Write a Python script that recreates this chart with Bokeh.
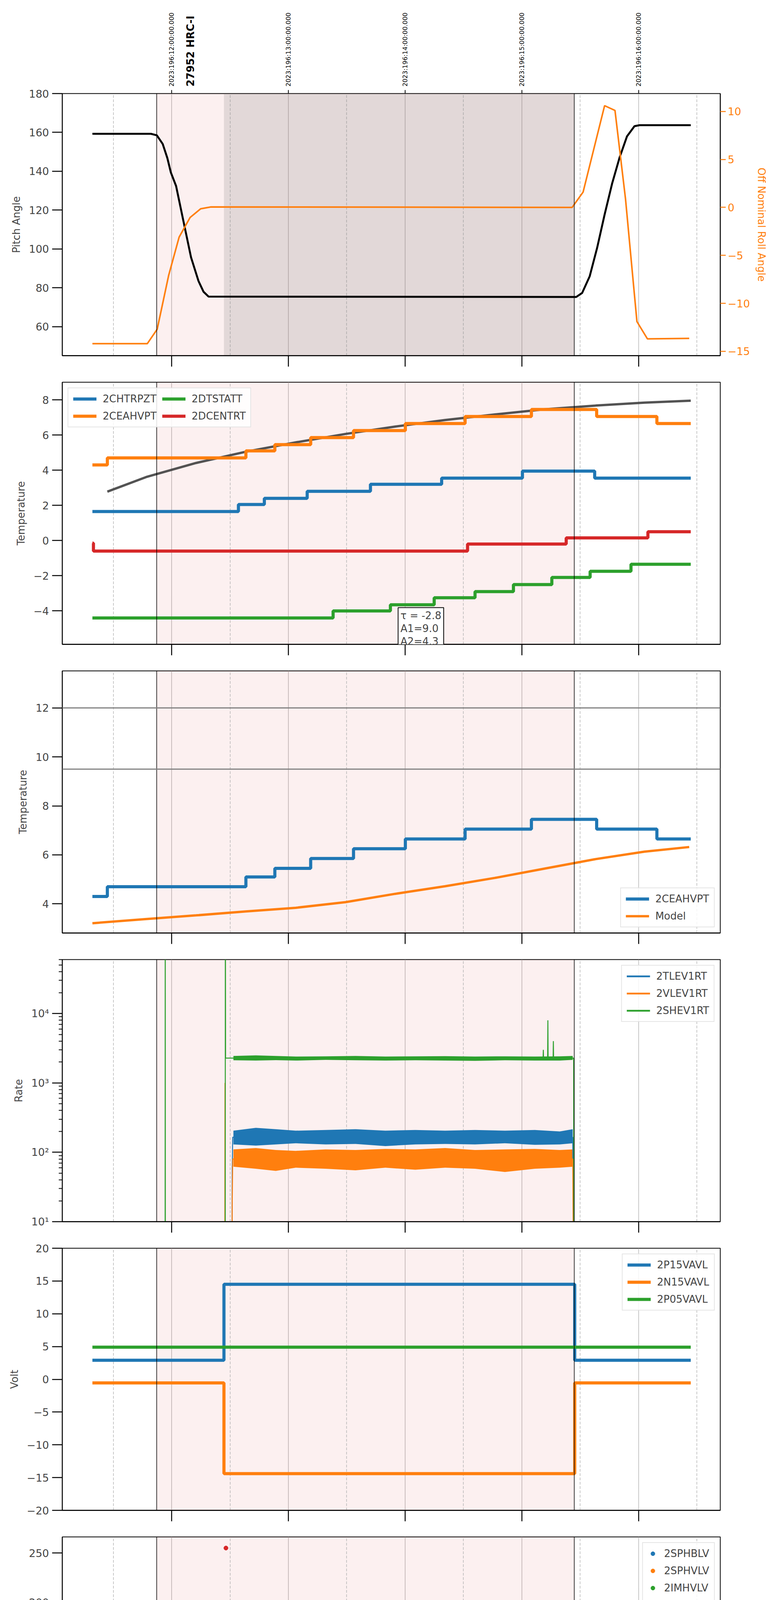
import math
from bokeh.plotting import figure
from bokeh.layouts import column
from bokeh.core.properties import value
from bokeh.models import Range1d, LinearAxis, FixedTicker, BoxAnnotation, Span, Label, Grid
from bokeh.embed import file_html
from bokeh.resources import INLINE

# time axis: decimal hours of 2023-07-15 (196)
x_start, x_end = 7.063, 12.70
hour_ticks = [8, 9, 10, 11, 12]
hour_labels = ["08h", "09h", "10h", "11h", "12h"]
half_ticks = [7.5, 8.5, 9.5, 10.5, 11.5, 12.5]
top_labels = ["2023:196:12:00:00.000", "2023:196:13:00:00.000", "2023:196:14:00:00.000",
              "2023:196:15:00:00.000", "2023:196:16:00:00.000"]
obs_name = "27952 HRC-I"
obs_name_t = 8.162
obs_start, obs_end = 7.872, 11.449
hv_on = 8.448

# pitch / roll
pitch_t = [7.321, 7.822, 7.873, 7.923, 7.963, 7.993, 8.038, 8.102, 8.166, 8.230, 8.273, 8.316,
           11.466, 11.517, 11.581, 11.645, 11.709, 11.773, 11.837, 11.901, 11.965, 12.008, 12.447]
pitch = [159.3, 159.3, 158.5, 154.1, 146.8, 139.4, 132.4, 114.0, 95.7, 83.5, 78.0, 75.5,
         75.3, 77.4, 85.9, 100.6, 117.7, 133.6, 147.0, 158.0, 163.2, 163.7, 163.7]
roll_t = [7.321, 7.791, 7.876, 7.974, 8.064, 8.158, 8.248, 8.337, 11.431, 11.525, 11.709,
          11.798, 11.888, 11.986, 12.076, 12.434]
roll = [-14.2, -14.2, -12.7, -7.1, -3.1, -1.05, -0.15, 0.05, 0.0, 1.6, 10.6, 10.1, 0.9,
        -11.9, -13.7, -13.65]

# temperatures
chtrpzt_t = [7.321, 8.572, 8.794, 9.161, 9.703, 10.313, 11.005, 11.624, 12.447]
chtrpzt = [1.65, 2.05, 2.4, 2.8, 3.2, 3.55, 3.95, 3.55, 3.55]
ceahvpt_t = [7.321, 7.449, 8.636, 8.884, 9.191, 9.558, 10.002, 10.514, 11.082, 11.641, 12.157, 12.447]
ceahvpt = [4.3, 4.7, 5.1, 5.45, 5.85, 6.25, 6.65, 7.05, 7.45, 7.05, 6.65, 6.65]
dtstatt_t = [7.321, 9.383, 9.874, 10.249, 10.599, 10.928, 11.257, 11.585, 11.935, 12.447]
dtstatt = [-4.4, -4.0, -3.65, -3.25, -2.9, -2.5, -2.1, -1.75, -1.35, -1.35]
dcentrt_t = [7.321, 7.330, 10.535, 11.380, 12.080, 12.447]
dcentrt = [-0.15, -0.6, -0.2, 0.15, 0.5, 0.5]
fit_t = [7.449, 7.782, 8.209, 8.636, 9.063, 9.490, 9.916, 10.343, 10.770, 11.197, 11.624, 12.050, 12.447]
fit = [2.78, 3.61, 4.41, 5.05, 5.58, 6.06, 6.48, 6.85, 7.17, 7.46, 7.67, 7.84, 7.95]
fit_text = "τ = -2.8\nA1=9.0\nA2=4.3"
model_t = [7.321, 7.782, 8.209, 8.636, 9.063, 9.490, 9.916, 10.343, 10.770, 11.197, 11.624, 12.050, 12.434]
model = [3.21, 3.38, 3.53, 3.69, 3.84, 4.07, 4.41, 4.72, 5.06, 5.44, 5.82, 6.13, 6.32]
limit_lines = [12.0, 9.5]

# rates (noisy, drawn as read envelopes)
rate_t = [8.529, 8.721, 8.892, 9.063, 9.319, 9.575, 9.831, 10.087, 10.343, 10.599, 10.855, 11.111, 11.325, 11.436]
tlev_hi = [205, 225, 215, 205, 210, 215, 205, 210, 205, 210, 205, 210, 200, 215]
tlev_lo = [130, 125, 130, 135, 130, 132, 123, 130, 132, 130, 135, 128, 130, 135]
vlev_hi = [110, 115, 108, 105, 110, 108, 112, 110, 115, 108, 110, 112, 108, 110]
vlev_lo = [62, 58, 54, 60, 58, 55, 60, 56, 60, 58, 52, 58, 60, 62]
shev_hi = [2450, 2500, 2450, 2400, 2420, 2450, 2400, 2420, 2430, 2400, 2420, 2400, 2420, 2450]
shev_lo = [2120, 2100, 2130, 2100, 2150, 2120, 2100, 2120, 2100, 2080, 2120, 2100, 2100, 2150]
shev_t = [7.321, 7.944, 7.945, 7.946, 8.459, 8.460, 8.462, 11.182, 11.184, 11.186, 11.221, 11.223,
          11.225, 11.268, 11.270, 11.272, 11.444, 11.446, 12.447]
shev = [1, 1, 1e6, 1, 1, 1e6, 2280, 2280, 3000, 2280, 2280, 8000, 2280, 2280, 4000, 2280, 2280, 1, 1]
tlev_t = [7.321, 8.515, 8.519, 8.523, 11.436, 11.444, 12.447]
tlev = [1, 1, 60, 165, 165, 1, 1]
vlev_t = [7.321, 8.455, 8.457, 8.459, 8.515, 8.519, 8.523, 11.436, 11.444, 12.447]
vlev = [1, 1, 1000, 1, 1, 20, 80, 80, 1, 1]
no_sample = [float("nan")]

# voltages
volt_t = [7.321, 8.448, 11.453, 12.447]
p15vavl = [2.9, 14.5, 2.9, 2.9]
n15vavl = [-0.55, -14.4, -0.55, -0.55]
p05_t = [7.321, 12.447]
p05vavl = [4.9, 4.9]

# HV monitor (HRC-S monitors have no valid samples here)
sphblv_t, sphblv = no_sample, no_sample
sphvlv_t, sphvlv = no_sample, no_sample
imhvlv_t = [8.474, 8.482, 8.491, 8.508, 8.521]
imhvlv = [99, 95, 90, 86, 82]
imhblv_t = [8.465, 8.469, 8.474, 8.478, 8.482, 8.491, 8.504, 8.512, 8.525]
imhblv = [255, 127, 119, 106, 104, 101, 97, 93, 89]
hv_steady_t = [8.525, 11.453]
imhvlv_steady = [79.5, 79.5]
imhblv_steady = [86, 86]

# detector temps
spinatm_t = [8.474, 9.596, 9.650, 9.655, 11.077, 11.444]
spinatm = [1.9, 2.35, 1.9, 2.35, 2.8, 2.8]
sphvatm_t = [8.448, 8.452, 9.127, 9.515, 9.904, 10.309, 10.757, 11.218, 11.444]
sphvatm = [13.6, 14.15, 14.45, 14.75, 15.0, 15.3, 15.55, 15.85, 15.85]
iminatm_t = [8.474, 9.063, 10.458, 11.431, 11.444]
iminatm = [0.25, 0.65, 1.05, 1.5, 1.5]
imhvatm_t = [8.448, 8.452, 8.636, 8.743, 8.841, 8.956, 9.076, 9.221, 9.383, 9.575, 9.735, 9.740,
             9.797, 10.057, 10.364, 10.727, 11.141, 11.447, 11.449, 11.451]
imhvatm = [-30, 13.6, 13.9, 14.2, 14.45, 14.75, 15.05, 15.3, 15.55, 15.8, 16.2, 15.8,
           16.1, 16.4, 16.7, 16.95, 17.2, 17.2, 40, -30]

# FEA temps
fhtrmzt_t = [7.321, 7.569, 8.679, 8.849, 9.020, 9.178, 9.340, 9.511, 9.686, 9.820, 9.824, 9.869,
             10.053, 10.249, 10.450, 10.655, 10.864, 11.090, 11.306, 11.310, 11.905, 12.417, 12.447]
fhtrmzt = [-7.55, -7.15, -6.75, -6.35, -5.95, -5.55, -5.15, -4.8, -4.4, -3.2, -4.4, -4.0,
           -3.65, -3.25, -2.9, -2.5, -2.1, -1.75, -3.3, -1.4, -1.75, -2.1, -2.1]
fradpyt_t = [7.321, 7.343, 7.974, 8.081, 8.243, 8.380, 8.743, 8.947, 9.148, 9.340, 9.532, 9.746,
             9.950, 10.172, 10.394, 10.629, 10.872, 11.111, 11.380, 11.662, 12.157, 12.447]
fradpyt = [-8.8, -8.4, -7.95, -8.4, -8.8, -9.2, -8.8, -8.4, -7.95, -7.55, -7.15, -6.75,
           -6.35, -5.95, -5.55, -5.15, -4.8, -4.4, -4.05, -4.4, -4.05, -4.05]
fepratm_t = [8.487, 8.508, 8.559, 8.606, 8.666, 8.751, 8.849, 8.977, 9.114, 9.268, 9.426, 9.600,
             9.788, 9.989, 10.185, 10.416, 10.642, 10.889, 11.146, 11.419, 11.453]
fepratm = [-5.85, -5.45, -5.0, -4.6, -4.2, -3.8, -3.4, -3.0, -2.6, -2.2, -1.8, -1.4,
           -1.0, -0.6, -0.2, 0.25, 0.65, 1.05, 1.5, 1.95, 1.95]
fe00atm_t = [8.445, 8.452, 8.571, 8.575, 8.636, 8.743, 8.849, 8.969, 9.076, 9.148, 9.152, 9.191,
             9.319, 9.383, 9.387, 9.455, 9.490, 9.494, 9.575, 9.711, 9.861, 9.916, 9.920, 10.010,
             10.027, 10.031, 10.159, 10.313, 10.480, 10.620, 10.624, 10.651, 10.821, 10.885, 10.889,
             10.928, 10.932, 10.983, 11.184, 11.201, 11.205, 11.326, 11.330, 11.359, 11.447, 11.451]
fe00atm = [-20, -4.9, -4.5, -4.9, -4.5, -4.15, -3.8, -3.45, -3.1, -3.5, -3.1, -2.8,
           -2.45, -1.75, -2.45, -2.1, -2.45, -2.1, -1.75, -1.45, -1.15, -1.8, -1.15, -0.8,
           -0.1, -0.8, -0.45, -0.15, 0.2, -0.5, 0.2, 0.5, 0.8, 0.45, 0.8,
           1.75, 0.8, 1.1, 1.4, 0.45, 1.4, 1.05, 1.4, 1.75, 40, -20]

FONT = "DejaVu Sans"
BLUE, ORANGE, GREEN, RED = "#1f77b4", "#ff7f0e", "#2ca02c", "#d62728"
xr = Range1d(x_start, x_end)
LEFT, RIGHT, FW, FH = 159, 120, 1685, 671


def tick_text(v, fmt="{:g}"):
    return fmt.format(v).replace("-", "\u2212")


def hide_labels(ax):
    ax.major_label_text_color = None
    ax.major_label_text_font_size = "1px"
    ax.major_label_standoff = 0


def make_panel(y_lo, y_hi, ylabel, yticks, fmt="{:g}", log=False, top=28, bottom=40):
    p = figure(frame_width=FW, frame_height=FH, x_range=xr, y_range=Range1d(y_lo, y_hi),
               y_axis_type="log" if log else "linear",
               min_border_left=LEFT, min_border_right=RIGHT, min_border_top=top, min_border_bottom=bottom,
               output_backend="svg", toolbar_location=None, tools="")
    p.outline_line_color = "black"
    p.outline_line_width = 2
    p.add_layout(BoxAnnotation(left=obs_start, right=obs_end, fill_color=RED, fill_alpha=0.07,
                               line_color=None, level="underlay"))
    p.xgrid.ticker = FixedTicker(ticks=hour_ticks)
    p.xgrid.grid_line_color = "#b0b0b0"
    p.xgrid.grid_line_width = 1.4
    p.ygrid.visible = False
    p.add_layout(Grid(dimension=0, ticker=FixedTicker(ticks=half_ticks), grid_line_color="#b0b0b0",
                      grid_line_dash="7 4", grid_line_width=1.4))
    for loc in (obs_start, obs_end):
        p.add_layout(Span(location=loc, dimension="height", line_color="black", line_width=1.5))

    ya = p.yaxis[0]
    if log:
        minor = [m * 10 ** e for e in range(1, 5) for m in range(2, 10)]
        ya.ticker = FixedTicker(ticks=yticks, minor_ticks=minor)
        sup = {10: "10\u00b9", 100: "10\u00b2", 1000: "10\u00b3", 10000: "10\u2074"}
        ya.major_label_overrides = {v: sup[v] for v in yticks}
        ya.minor_tick_out = 9
        ya.minor_tick_in = 0
        ya.minor_tick_line_width = 1.8
    else:
        ya.ticker = FixedTicker(ticks=yticks)
        ya.major_label_overrides = {v: tick_text(v, fmt) for v in yticks}
        ya.minor_tick_line_color = None
    ya.major_tick_out = 26
    ya.major_tick_in = 0
    ya.major_tick_line_width = 2.5
    ya.axis_line_width = 2
    ya.major_label_text_font = FONT
    ya.major_label_text_font_size = "27px"
    ya.major_label_standoff = 8
    ya.axis_label = ylabel
    ya.axis_label_text_font = FONT
    ya.axis_label_text_font_size = "26px"
    ya.axis_label_text_font_style = "normal"
    ya.axis_label_standoff = 14

    xa = p.xaxis[0]
    xa.ticker = FixedTicker(ticks=hour_ticks)
    xa.major_tick_out = 28
    xa.major_tick_in = 0
    xa.major_tick_line_width = 2.5
    xa.minor_tick_line_color = None
    xa.axis_line_width = 2.5
    hide_labels(xa)
    return p


def style_legend(p, loc, ncols=1):
    lg = p.legend[0]
    lg.location = loc
    lg.label_text_font = FONT
    lg.label_text_font_size = "26px"
    lg.glyph_width = 60
    lg.glyph_height = 26
    lg.label_height = 26
    lg.label_standoff = 16
    lg.spacing = 14
    lg.padding = 12
    lg.margin = 14
    lg.border_line_color = "#cccccc"
    lg.border_line_width = 2
    lg.background_fill_alpha = 0.85
    if ncols > 1:
        lg.ncols = ncols


# header: time stamps and observation name above the first panel
hdr = figure(frame_width=FW, frame_height=223, x_range=xr, y_range=Range1d(0, 223),
             min_border_left=LEFT, min_border_right=RIGHT, min_border_top=0, min_border_bottom=0,
             x_axis_location=None, y_axis_location=None, output_backend="svg",
             toolbar_location=None, tools="")
hdr.outline_line_color = None
hdr.grid.visible = False
hdr.text(x=hour_ticks, y=[2] * len(hour_ticks), text=top_labels, angle=math.pi / 2,
         text_font=value(FONT), text_font_size="16px", text_align="left", text_baseline="middle")
hdr.text(x=[obs_name_t], y=[2], text=[obs_name], angle=math.pi / 2, text_font=value(FONT),
         text_font_style="bold", text_font_size="26px", text_align="left", text_baseline="middle")

# 1: pitch and roll
p1 = make_panel(45.1, 180, "Pitch Angle", [60, 80, 100, 120, 140, 160, 180], top=16)
p1.add_layout(BoxAnnotation(left=hv_on, right=obs_end, fill_color="#7f7878", fill_alpha=0.2,
                            line_color=None, level="underlay"))
p1.line(pitch_t, pitch, color="black", line_width=5)
p1.extra_y_ranges = {"roll": Range1d(-15.45, 11.86)}
p1.line(roll_t, roll, color=ORANGE, line_width=4, y_range_name="roll")
ra = LinearAxis(y_range_name="roll", ticker=FixedTicker(ticks=[-15, -10, -5, 0, 5, 10]),
                axis_label="Off Nominal Roll Angle")
ra.major_label_overrides = {v: tick_text(v) for v in [-15, -10, -5, 0, 5, 10]}
ra.axis_line_color = "black"
ra.axis_line_width = 2
ra.major_tick_out = 14
ra.major_tick_in = 0
ra.major_tick_line_color = ORANGE
ra.major_tick_line_width = 2.5
ra.minor_tick_line_color = None
ra.major_label_text_color = ORANGE
ra.major_label_text_font = FONT
ra.major_label_text_font_size = "27px"
ra.axis_label_text_color = ORANGE
ra.axis_label_text_font = FONT
ra.axis_label_text_font_size = "26px"
ra.axis_label_text_font_style = "normal"
ra.axis_label_standoff = 12
p1.add_layout(ra, "right")
ta = LinearAxis(ticker=FixedTicker(ticks=hour_ticks))
ta.major_tick_out = 9
ta.major_tick_in = 0
ta.major_tick_line_width = 2
ta.minor_tick_line_color = None
ta.axis_line_color = None
hide_labels(ta)
p1.add_layout(ta, "above")

# 2: temperatures with fit
p2 = make_panel(-5.9, 9.0, "Temperature", [-4, -2, 0, 2, 4, 6, 8])
p2.line(fit_t, fit, color="#404040", line_width=6, alpha=0.9)
p2.step(chtrpzt_t, chtrpzt, mode="after", color=BLUE, line_width=8, legend_label="2CHTRPZT")
p2.step(ceahvpt_t, ceahvpt, mode="after", color=ORANGE, line_width=8, legend_label="2CEAHVPT")
p2.step(dtstatt_t, dtstatt, mode="after", color=GREEN, line_width=8, legend_label="2DTSTATT")
p2.step(dcentrt_t, dcentrt, mode="after", color=RED, line_width=8, legend_label="2DCENTRT")
style_legend(p2, "top_left", ncols=2)
p2.add_layout(Label(x=9.94, y=-3.81, text=fit_text, text_font=FONT, text_font_size="26px",
                    text_line_height=1.1, text_align="left", text_baseline="top",
                    border_line_color="black", border_line_width=2,
                    background_fill_color="white", padding=6))

# 3: 2CEAHVPT vs model
p3 = make_panel(2.81, 13.51, "Temperature", [4, 6, 8, 10, 12])
for lim in limit_lines:
    p3.add_layout(Span(location=lim, dimension="width", line_color="#808080", line_width=3))
p3.step(ceahvpt_t, ceahvpt, mode="after", color=BLUE, line_width=8, legend_label="2CEAHVPT")
p3.line(model_t, model, color=ORANGE, line_width=6, legend_label="Model")
style_legend(p3, "bottom_right")

# 4: rates
p4 = make_panel(10, 60000, "Rate", [10, 100, 1000, 10000], log=True)
p4.varea(rate_t, tlev_lo, tlev_hi, color=BLUE)
p4.varea(rate_t, vlev_lo, vlev_hi, color=ORANGE)
p4.varea(rate_t, shev_lo, shev_hi, color=GREEN)
p4.line(tlev_t, tlev, color=BLUE, line_width=2.5)
p4.line(vlev_t, vlev, color=ORANGE, line_width=2.5)
p4.line(shev_t, shev, color=GREEN, line_width=2.5)
# legend keys drawn a little thicker than the traces, as in matplotlib's legend
p4.line(no_sample, no_sample, color=BLUE, line_width=4.5, legend_label="2TLEV1RT")
p4.line(no_sample, no_sample, color=ORANGE, line_width=4.5, legend_label="2VLEV1RT")
p4.line(no_sample, no_sample, color=GREEN, line_width=4.5, legend_label="2SHEV1RT")
style_legend(p4, "top_right")

# 5: voltages
p5 = make_panel(-20, 20, "Volt", [-20, -15, -10, -5, 0, 5, 10, 15, 20])
p5.step(volt_t, p15vavl, mode="after", color=BLUE, line_width=8, legend_label="2P15VAVL")
p5.step(volt_t, n15vavl, mode="after", color=ORANGE, line_width=8, legend_label="2N15VAVL")
p5.line(p05_t, p05vavl, color=GREEN, line_width=8, legend_label="2P05VAVL")
style_legend(p5, "top_right")

# 6: HV monitor
p6 = make_panel(0, 266.3, "HV Monitor", [0, 50, 100, 150, 200, 250])
p6.scatter(sphblv_t, sphblv, size=11, color=BLUE, legend_label="2SPHBLV")
p6.scatter(sphvlv_t, sphvlv, size=11, color=ORANGE, legend_label="2SPHVLV")
p6.line(hv_steady_t, imhvlv_steady, color=GREEN, line_width=12, line_cap="round")
p6.scatter(imhvlv_t, imhvlv, size=11, color=GREEN, legend_label="2IMHVLV")
p6.line(hv_steady_t, imhblv_steady, color=RED, line_width=11, line_cap="round")
p6.scatter(imhblv_t, imhblv, size=11, color=RED, legend_label="2IMHBLV")
style_legend(p6, "top_right")
p6.legend[0].glyph_width = 26

# 7: detector temps
p7 = make_panel(-0.82, 18.19, "Detector Temp", [0, 2.5, 5, 7.5, 10, 12.5, 15, 17.5], fmt="{:.1f}")
p7.step(spinatm_t, spinatm, mode="after", color=BLUE, line_width=8, legend_label="2SPINATM")
p7.step(sphvatm_t, sphvatm, mode="after", color=ORANGE, line_width=8, legend_label="2SPHVATM")
p7.step(iminatm_t, iminatm, mode="after", color=GREEN, line_width=8, legend_label="2IMINATM")
p7.step(imhvatm_t, imhvatm, mode="after", color=RED, line_width=8, legend_label="2IMHVATM")
style_legend(p7, "top_right")

# 8: FEA temps, with the time axis labels
p8 = make_panel(-9.48, 2.15, "FEA Temp", [-8, -6, -4, -2, 0, 2], bottom=100)
p8.step(fhtrmzt_t, fhtrmzt, mode="after", color=BLUE, line_width=7, legend_label="2FHTRMZT")
p8.step(fradpyt_t, fradpyt, mode="after", color=ORANGE, line_width=7, legend_label="2FRADPYT")
p8.step(fepratm_t, fepratm, mode="after", color=GREEN, line_width=7, legend_label="2FEPRATM")
p8.step(fe00atm_t, fe00atm, mode="after", color=RED, line_width=7, legend_label="2FE00ATM")
style_legend(p8, "top_right")
xa = p8.xaxis[0]
xa.ticker = FixedTicker(ticks=half_ticks, minor_ticks=hour_ticks)
xa.major_label_overrides = {h: "30" for h in half_ticks}
xa.major_tick_out = 0
xa.minor_tick_out = 28
xa.minor_tick_in = 0
xa.minor_tick_line_color = "black"
xa.minor_tick_line_width = 2.5
xa.major_label_text_color = "black"
xa.major_label_text_font = FONT
xa.major_label_text_font_size = "17px"
xa.major_label_standoff = 5
hx = LinearAxis(ticker=FixedTicker(ticks=hour_ticks))
hx.major_label_overrides = dict(zip(hour_ticks, hour_labels))
hx.major_tick_out = 0
hx.major_tick_in = 0
hx.minor_tick_line_color = None
hx.axis_line_color = None
hx.major_label_text_font = FONT
hx.major_label_text_font_size = "27px"
hx.major_label_standoff = 7
hx.axis_label = "2023-07-15 (196)"
hx.axis_label_text_font = FONT
hx.axis_label_text_font_size = "30px"
hx.axis_label_text_font_style = "normal"
hx.axis_label_standoff = 2
p8.add_layout(hx, "below")

layout = column(hdr, p1, p2, p3, p4, p5, p6, p7, p8)
open("out.html", "w").write(file_html(layout, INLINE))
